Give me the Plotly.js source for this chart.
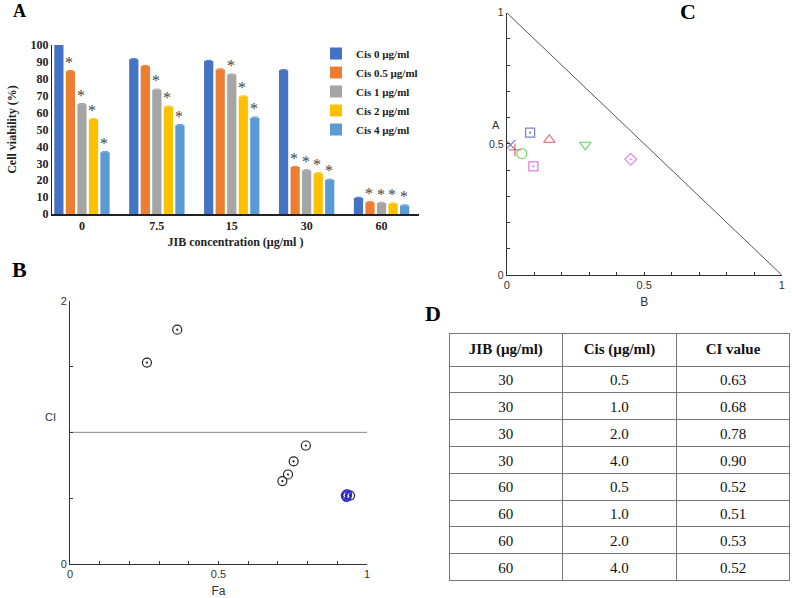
<!DOCTYPE html>
<html><head><meta charset="utf-8">
<script src="https://cdn.plot.ly/plotly-3.0.1.min.js"></script>
<style>html,body{margin:0;padding:0;background:#fff}#chart{width:792px;height:598px}</style>
</head><body><div id="chart"></div>
<script>
// ---------- Panel A data ----------
const jibCategories = ['0', '7.5', '15', '30', '60'];
const seriesNames = ['Cis 0 µg/ml', 'Cis 0.5 µg/ml', 'Cis 1 µg/ml', 'Cis 2 µg/ml', 'Cis 4 µg/ml'];
const cis0 = [100, 91.5, 90.5, 85, 9.5];
const cis05 = [84.5, 87.5, 85.5, 27.8, 6.9];
const cis1 = [65, 73.5, 82.5, 25.8, 6.5];
const cis2 = [56, 63.5, 69.5, 24, 6.1];
const cis4 = [36.5, 52.5, 57, 20.2, 5];
const sigCis0 = ['', '', '', '', ''];
const sigCis05 = ['*', '', '', '*', '*'];
const sigCis1 = ['*', '*', '*', '*', '*'];
const sigCis2 = ['*', '*', '*', '*', '*'];
const sigCis4 = ['*', '*', '*', '*', '*'];

// ---------- Panel B data ----------
const faValues = [0.259, 0.361, 0.715, 0.734, 0.753, 0.794, 0.943];
const ciValues = [1.53, 1.78, 0.63, 0.68, 0.78, 0.90, 0.52];
const faHighlighted = [0.929, 0.931, 0.933];
const ciHighlighted = [0.52, 0.51, 0.53];
const refLineFa = [0, 1];
const refLineCi = [1, 1];

// ---------- Panel C data ----------
const isoB = [0.014, 0.030, 0.055, 0.085, 0.097, 0.155, 0.286, 0.451];
const isoA = [0.496, 0.477, 0.463, 0.543, 0.414, 0.515, 0.496, 0.441];
const additivityB = [0, 1];
const additivityA = [1, 0];

// ---------- Panel D data ----------
const tableHeader = ['JIB (µg/ml)', 'Cis (µg/ml)', 'CI value'];
const tableJIB = ['30', '30', '30', '30', '60', '60', '60', '60'];
const tableCis = ['0.5', '1.0', '2.0', '4.0', '0.5', '1.0', '2.0', '4.0'];
const tableCI = ['0.63', '0.68', '0.78', '0.90', '0.52', '0.51', '0.53', '0.52'];

// ---------- helpers ----------
const W = 792, H = 598;
const px = p => p / W;
const py = p => 1 - p / H;

const barColors = ['#4472C4', '#ED7D31', '#A5A5A5', '#FFC000', '#5B9BD5'];
const serif = 'Liberation Serif, Times New Roman, serif';
const sans = 'Liberation Sans, Arial, sans-serif';

const BARGAP = 0.23, XRANGE = [-0.4, 4.5], XDOM = [52, 419];
const catPx = (XDOM[1] - XDOM[0]) / (XRANGE[1] - XRANGE[0]);
const slotPx = catPx * (1 - BARGAP) / 5;

const barData = [cis0, cis05, cis1, cis2, cis4];
const sigData = [sigCis0, sigCis05, sigCis1, sigCis2, sigCis4];
const traces = barData.map((vals, i) => ({
  type: 'bar', x: jibCategories, y: vals, name: '<b>' + seriesNames[i] + '</b>',
  marker: {color: barColors[i]},
  error_y: {type: 'constant', value: 0.4, color: barColors[i], thickness: 1, width: 3},
  xaxis: 'x', yaxis: 'y'
}));

// significance stars, positioned from the bar data (x = category index)
const starAnnotations = [];
sigData.forEach((arr, i) => {
  arr.forEach((s, j) => {
    if (!s) return;
    starAnnotations.push({text: s, x: j, y: barData[i][j], xref: 'x', yref: 'y',
      xshift: (i - 2) * slotPx - 1, yshift: 9, showarrow: false, xanchor: 'center', yanchor: 'middle',
      font: {family: serif, size: 16, color: '#444'}});
  });
});

// Panel B
traces.push({type: 'scatter', mode: 'lines', x: refLineFa, y: refLineCi, xaxis: 'x2', yaxis: 'y2',
  line: {color: '#8a8a8a', width: 1}, showlegend: false, hoverinfo: 'skip'});
traces.push({type: 'scatter', mode: 'markers', x: faValues, y: ciValues, xaxis: 'x2', yaxis: 'y2',
  marker: {symbol: 'circle-open-dot', size: 9, color: '#222', line: {width: 1.2, color: '#222'}}, showlegend: false});
traces.push({type: 'scatter', mode: 'markers', x: faHighlighted, y: ciHighlighted, xaxis: 'x2', yaxis: 'y2',
  marker: {symbol: 'circle-open-dot', size: 9, color: '#2828c8', line: {width: 1.4, color: '#2828c8'}}, showlegend: false});

// Panel C
traces.push({type: 'scatter', mode: 'lines', x: additivityB, y: additivityA, xaxis: 'x3', yaxis: 'y3',
  line: {color: '#555', width: 1}, showlegend: false, hoverinfo: 'skip'});
const isoColors = ['#4848c8', '#e03a3a', '#44d044', '#4a4ab8', '#d444d4', '#e04050', '#44c444', '#d866d8'];
traces.push({type: 'scatter', mode: 'markers', x: isoB, y: isoA, xaxis: 'x3', yaxis: 'y3', showlegend: false,
  marker: {
    symbol: ['x-thin-open', 'cross-thin-open', 'circle-open', 'square-open-dot', 'square-open-dot', 'triangle-up-open', 'triangle-down-open', 'diamond-open-dot'],
    size: [10, 9, 10, 9, 9, 10, 10, 9],
    color: isoColors,
    line: {width: 1.3, color: isoColors}
  }});

// Panel D
traces.push({type: 'table', domain: {x: [px(449), px(791)], y: [py(582), py(333)]},
  columnwidth: [1, 1, 1],
  header: {values: tableHeader.map(t => '<b>' + t + '</b>'), height: 24, align: 'center',
    fill: {color: '#fff'}, line: {color: '#777', width: 1}, font: {family: serif, size: 15, color: '#111'}},
  cells: {values: [tableJIB, tableCis, tableCI], height: 26.8, align: 'center',
    fill: {color: '#fff'}, line: {color: '#777', width: 1}, font: {family: serif, size: 15, color: '#111'}}
});

const axBC = {
  showgrid: false, zeroline: false, showline: true, linecolor: '#333', linewidth: 1,
  ticks: 'inside', ticklen: 3, tickcolor: '#333', tickfont: {family: sans, size: 11, color: '#333'}
};
const tv = [0, 0.1, 0.2, 0.3, 0.4, 0.5, 0.6, 0.7, 0.8, 0.9, 1];
const tt = ['0', '', '', '', '', '0.5', '', '', '', '', '1'];

const panelLabel = (t, x, y, size) => ({text: '<b>' + t + '</b>', x: px(x), y: py(y), xref: 'paper', yref: 'paper',
  xanchor: 'center', yanchor: 'middle', showarrow: false, font: {family: serif, size: size, color: '#000'}});

const layout = {
  width: W, height: H, margin: {l: 0, r: 0, t: 0, b: 0},
  paper_bgcolor: '#fff', plot_bgcolor: 'rgba(0,0,0,0)',
  barmode: 'group', bargap: BARGAP, bargroupgap: 0.2,
  showlegend: true,
  legend: {x: px(316), y: py(39), xanchor: 'left', yanchor: 'top', bgcolor: 'rgba(0,0,0,0)',
    font: {family: serif, size: 11, color: '#222'}, tracegroupgap: 0, itemwidth: 30},
  xaxis: {domain: [px(XDOM[0]), px(XDOM[1])], range: XRANGE, type: 'category',
    showline: true, linecolor: '#222', linewidth: 1.5, ticks: '', showgrid: false,
    tickfont: {family: serif, size: 12, color: '#222', weight: 'bold'},
    title: {text: '<b>JIB concentration (µg/ml )</b>', font: {family: serif, size: 12, color: '#222'}, standoff: 5}},
  yaxis: {domain: [py(214), py(45)], range: [0, 100], dtick: 10, showline: true, linecolor: '#222', linewidth: 1,
    ticks: '', showgrid: false, zeroline: false,
    tickfont: {family: serif, size: 12, color: '#222', weight: 'bold'},
    title: {text: '<b>Cell viability (%)</b>', font: {family: serif, size: 12, color: '#222'}, standoff: 11}},
  xaxis2: Object.assign({}, axBC, {domain: [px(70), px(367)], range: [0, 1], anchor: 'y2', tickvals: tv, ticktext: tt,
    title: {text: 'Fa', font: {family: sans, size: 12, color: '#333'}, standoff: 7}}),
  yaxis2: Object.assign({}, axBC, {domain: [py(564), py(300.7)], range: [0, 2], anchor: 'x2',
    tickvals: [0, 0.5, 1, 1.5, 2], ticktext: ['0', '', '', '', '2']}),
  xaxis3: Object.assign({}, axBC, {domain: [px(506.7), px(781.7)], range: [0, 1], anchor: 'y3', tickvals: tv, ticktext: tt,
    title: {text: 'B', font: {family: sans, size: 12, color: '#333'}, standoff: 7}}),
  yaxis3: Object.assign({}, axBC, {domain: [py(275), py(12.7)], range: [0, 1], anchor: 'x3', tickvals: tv, ticktext: tt,
    tickfont: {family: sans, size: 10.5, color: '#333'}}),
  annotations: [
    panelLabel('A', 19, 11, 18),
    panelLabel('B', 19, 270, 22),
    panelLabel('C', 688, 12, 22),
    panelLabel('D', 433, 313, 22),
    {text: 'CI', x: px(50), y: py(417), xref: 'paper', yref: 'paper', xanchor: 'center', yanchor: 'middle', showarrow: false, font: {family: sans, size: 11, color: '#333'}},
    {text: 'A', x: px(496), y: py(125), xref: 'paper', yref: 'paper', xanchor: 'center', yanchor: 'middle', showarrow: false, font: {family: sans, size: 11, color: '#333'}}
  ].concat(starAnnotations)
};

Plotly.newPlot('chart', traces, layout, {staticPlot: true, displayModeBar: false});
</script></body></html>
